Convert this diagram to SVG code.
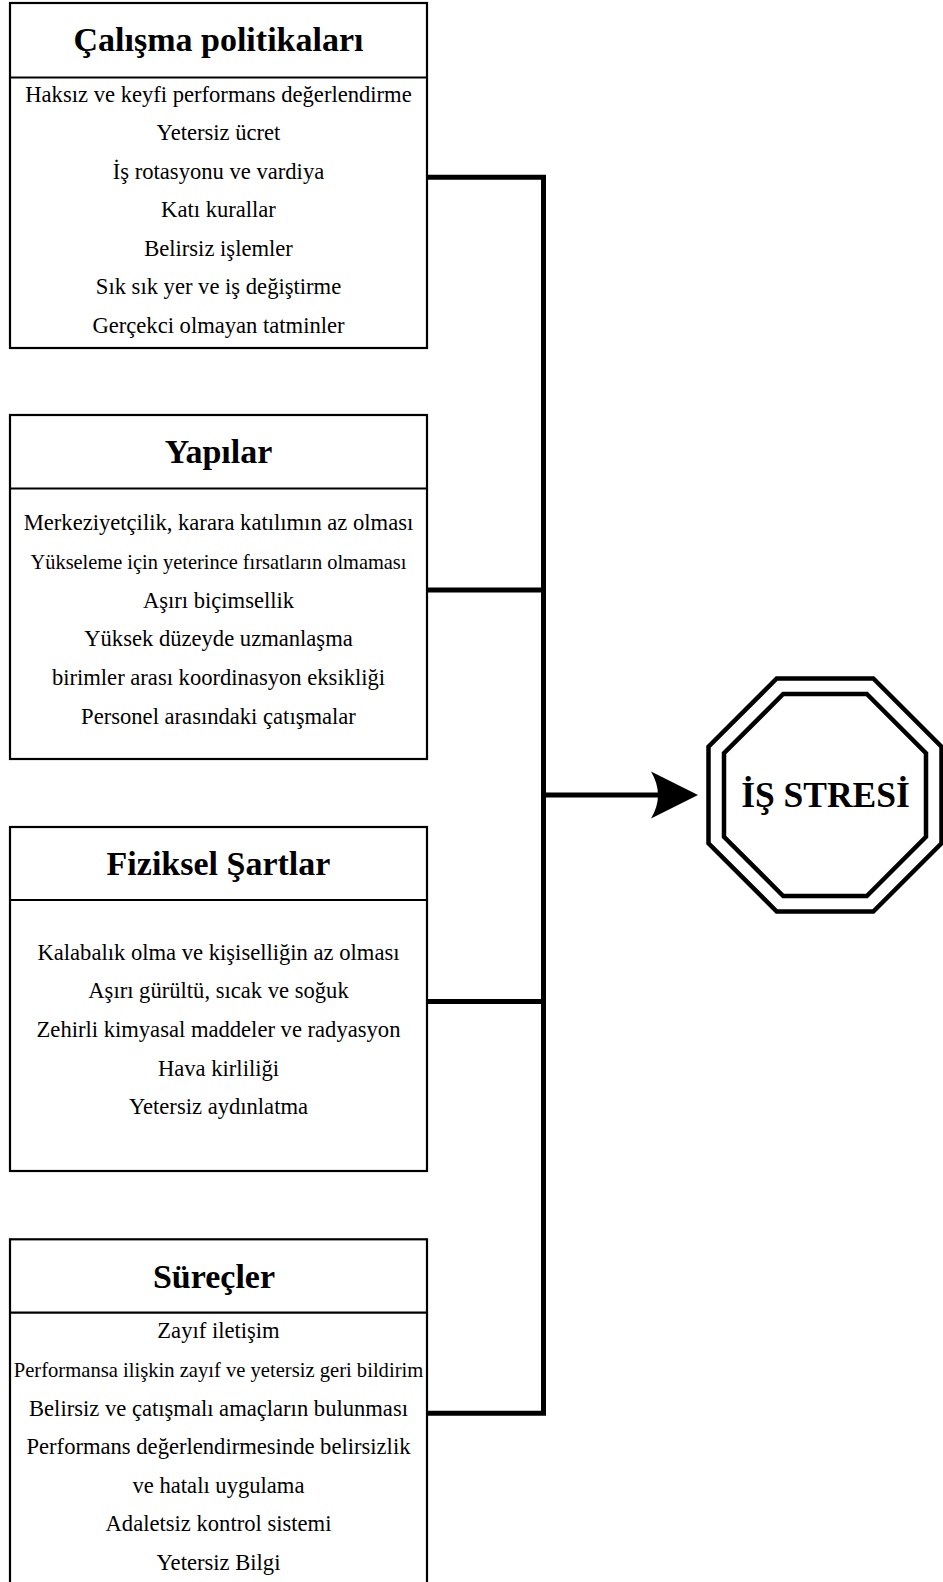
<svg xmlns="http://www.w3.org/2000/svg" width="943" height="1582" viewBox="0 0 943 1582">
<style>
.box{fill:#fff;stroke:#000;stroke-width:2.2}
.div{stroke:#000;stroke-width:2.2}
.title{font-family:"Liberation Serif","Times New Roman",serif;font-weight:bold;font-size:34px;text-anchor:middle;fill:#000}
.item{font-family:"Liberation Serif","Times New Roman",serif;font-size:22.6px;text-anchor:middle;fill:#000}
.conn{fill:none;stroke:#000;stroke-width:5;stroke-linejoin:miter}
.oct{fill:none;stroke:#000;stroke-width:4.5;stroke-linejoin:miter}
</style>
<rect width="943" height="1582" fill="#fff"/>
<g id="connectors">
<path class="conn" d="M427,177.3 H543.5 V1413.3 H427"/>
<path class="conn" d="M427,590 H543.5"/>
<path class="conn" d="M427,1001.5 H543.5"/>
<path class="conn" d="M543.5,795 H662"/>
<path d="M698,795 L651,771.5 Q665,795 651,818.5 Z" fill="#000"/>
</g>
<g id="calisma">
<rect class="box" x="10" y="3" width="417" height="345"/>
<line class="div" x1="10" y1="77.5" x2="427" y2="77.5"/>
<text class="title" x="218.5" y="51">Çalışma politikaları</text>
<text class="item" x="218.5" y="101.7">Haksız ve keyfi performans değerlendirme</text>
<text class="item" x="218.5" y="140">Yetersiz ücret</text>
<text class="item" x="218.5" y="178.5">İş rotasyonu ve vardiya</text>
<text class="item" x="218.5" y="217">Katı kurallar</text>
<text class="item" x="218.5" y="255.5">Belirsiz işlemler</text>
<text class="item" x="218.5" y="294">Sık sık yer ve iş değiştirme</text>
<text class="item" x="218.5" y="332.5">Gerçekci olmayan tatminler</text>
</g>
<g id="yapilar">
<rect class="box" x="10" y="415" width="417" height="344"/>
<line class="div" x1="10" y1="488.5" x2="427" y2="488.5"/>
<text class="title" x="218.5" y="463">Yapılar</text>
<text class="item" x="218.5" y="530">Merkeziyetçilik, karara katılımın az olması</text>
<text class="item" x="218.5" y="568.5" style="font-size:20.4px">Yükseleme için yeterince fırsatların olmaması</text>
<text class="item" x="218.5" y="607.5">Aşırı biçimsellik</text>
<text class="item" x="218.5" y="646">Yüksek düzeyde uzmanlaşma</text>
<text class="item" x="218.5" y="685">birimler arası koordinasyon eksikliği</text>
<text class="item" x="218.5" y="723.5">Personel arasındaki çatışmalar</text>
</g>
<g id="fiziksel">
<rect class="box" x="10" y="827" width="417" height="344"/>
<line class="div" x1="10" y1="900" x2="427" y2="900"/>
<text class="title" x="218.5" y="875">Fiziksel Şartlar</text>
<text class="item" x="218.5" y="959.5">Kalabalık olma ve kişiselliğin az olması</text>
<text class="item" x="218.5" y="998">Aşırı gürültü, sıcak ve soğuk</text>
<text class="item" x="218.5" y="1036.5">Zehirli kimyasal maddeler ve radyasyon</text>
<text class="item" x="218.5" y="1075.5">Hava kirliliği</text>
<text class="item" x="218.5" y="1114">Yetersiz aydınlatma</text>
</g>
<g id="surecler">
<rect class="box" x="10" y="1239.3" width="417" height="346"/>
<line class="div" x1="10" y1="1312.7" x2="427" y2="1312.7"/>
<text class="title" x="214" y="1287.5">Süreçler</text>
<text class="item" x="218.5" y="1338">Zayıf iletişim</text>
<text class="item" x="218.5" y="1377" style="font-size:20.6px">Performansa ilişkin zayıf ve yetersiz geri bildirim</text>
<text class="item" x="218.5" y="1415.5">Belirsiz ve çatışmalı amaçların bulunması</text>
<text class="item" x="218.5" y="1454">Performans değerlendirmesinde belirsizlik</text>
<text class="item" x="218.5" y="1492.5">ve hatalı uygulama</text>
<text class="item" x="218.5" y="1531">Adaletsiz kontrol sistemi</text>
<text class="item" x="218.5" y="1569.5">Yetersiz Bilgi</text>
</g>
<g id="is-stresi">
<polygon class="oct" points="776.7,678.5 873.3,678.5 941.5,746.7 941.5,843.3 873.3,911.5 776.7,911.5 708.5,843.3 708.5,746.7"/>
<polygon class="oct" points="783.2,694 866.8,694 926,753.2 926,836.8 866.8,896 783.2,896 724,836.8 724,753.2"/>
<text class="title" x="825.5" y="807" style="font-size:35.5px">İŞ STRESİ</text>
</g>
</svg>
